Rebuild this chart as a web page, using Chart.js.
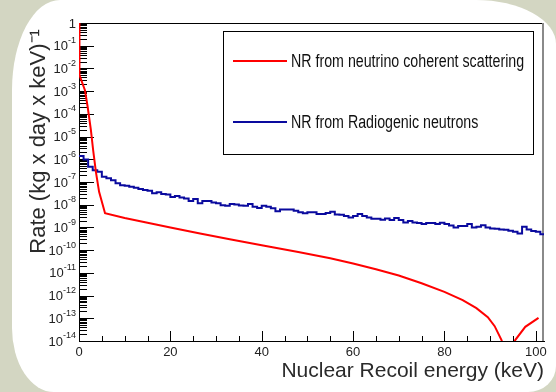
<!DOCTYPE html>
<html lang="en">
<head>
    <meta charset="UTF-8">
    <title>Nuclear recoil rates</title>
    <script src="https://cdn.jsdelivr.net/npm/chart.js"></script>
    <style>
        body {
            margin: 0;
            width: 556px;
            height: 392px;
            overflow: hidden;
            background: #d3d6c2;
            position: relative;
        }
        .sheet {
            position: absolute;
            left: 12px;
            top: 0;
            width: 544px;
            height: 392px;
            background: #fff;
            border-radius: 48px 80px 28px 42px / 90px 44px 26px 64px;
        }
        canvas {
            position: absolute;
            left: 0;
            top: 0;
        }
    </style>
</head>
<body>
    <div class="sheet"></div>
    <canvas id="rateChart" width="556" height="392"></canvas>

    <script>
        // neutrino coherent scattering (smooth curve)
        const redEnergy = [0, 0, 0.2, 1.3, 1.9, 2.6, 3.1, 3.7, 4.4, 5.7, 10, 15, 20, 26.5, 33, 40, 48, 55, 60, 65, 70, 75, 80, 84, 87, 89.5, 91, 92.5, 94, 95.5, 97.7, 100.6];
        const redRate = [1, 6e-3, 5.1e-3, 1.1e-3, 2.0e-4, 1.95e-5, 2.5e-6, 2.8e-7, 3.7e-8, 4.2e-9, 2.6e-9, 1.62e-9, 1.0e-9, 5.4e-10, 3.0e-10, 1.66e-10, 8.3e-11, 4.4e-11, 2.6e-11, 1.45e-11, 7.6e-12, 3.5e-12, 1.45e-12, 6.3e-13, 2.8e-13, 1.12e-13, 4.5e-14, 1.1e-14, 1e-15, 1.1e-14, 4.2e-14, 1.05e-13];

        // radiogenic neutrons (histogram, 1 keV bins, low edges)
        const blueBinEdges = [
            0, 1, 2, 3, 4, 5, 6, 7, 8, 9, 10, 11, 12, 13, 14, 15, 16, 17, 18, 19,
            20, 21, 22, 23, 24, 25, 26, 27, 28, 29, 30, 31, 32, 33, 34, 35, 36, 37, 38, 39,
            40, 41, 42, 43, 44, 45, 46, 47, 48, 49, 50, 51, 52, 53, 54, 55, 56, 57, 58, 59,
            60, 61, 62, 63, 64, 65, 66, 67, 68, 69, 70, 71, 72, 73, 74, 75, 76, 77, 78, 79,
            80, 81, 82, 83, 84, 85, 86, 87, 88, 89, 90, 91, 92, 93, 94, 95, 96, 97, 98, 99,
            100, 101, 102
        ];
        const blueRate = [
            1.4e-6, 9.8e-7, 4.7e-7, 3.3e-7, 2.8e-7, 1.7e-7, 1.45e-7, 1.2e-7, 8.7e-8, 7.2e-8,
            6.8e-8, 6.2e-8, 5.6e-8, 4.9e-8, 4.4e-8, 4.1e-8, 3.2e-8, 3.5e-8, 3.0e-8, 2.8e-8,
            2.2e-8, 2.4e-8, 2.1e-8, 1.9e-8, 1.45e-8, 1.8e-8, 1.15e-8, 1.45e-8, 1.45e-8, 1.26e-8,
            1.15e-8, 9.5e-9, 8.9e-9, 1.07e-8, 1.02e-8, 9.3e-9, 8.9e-9, 1.07e-8, 8.1e-9, 7.2e-9,
            8.9e-9, 8.1e-9, 6.9e-9, 5.2e-9, 6.2e-9, 6.2e-9, 6.2e-9, 5.4e-9, 4.6e-9, 4.2e-9,
            4.7e-9, 4.7e-9, 3.9e-9, 3.9e-9, 4.3e-9, 4.9e-9, 3.7e-9, 3.6e-9, 3.2e-9, 2.75e-9,
            3.2e-9, 3.9e-9, 3.2e-9, 2.75e-9, 2.4e-9, 2.4e-9, 2.2e-9, 2.45e-9, 2.1e-9, 2.6e-9,
            2.1e-9, 1.66e-9, 1.9e-9, 1.66e-9, 1.55e-9, 1.41e-9, 1.58e-9, 1.58e-9, 1.41e-9, 1.62e-9,
            1.41e-9, 1.23e-9, 1.0e-9, 1.17e-9, 1.17e-9, 1.41e-9, 1.0e-9, 1.07e-9, 1.26e-9, 1.0e-9,
            8.9e-10, 8.7e-10, 8.1e-10, 7.9e-10, 7.1e-10, 6.5e-10, 5.4e-10, 1.07e-9, 8.1e-10, 6.9e-10,
            6.5e-10, 5.0e-10
        ];

        const xTickValues = [0, 20, 40, 60, 80, 100];
        const yTickValues = [1, 1e-1, 1e-2, 1e-3, 1e-4, 1e-5, 1e-6, 1e-7, 1e-8, 1e-9, 1e-10, 1e-11, 1e-12, 1e-13, 1e-14];
        const yTickBases = ['1', '10', '10', '10', '10', '10', '10', '10', '10', '10', '10', '10', '10', '10', '10'];
        const yTickPowers = ['', '-1', '-2', '-3', '-4', '-5', '-6', '-7', '-8', '-9', '-10', '-11', '-12', '-13', '-14'];

        const redLabel = 'NR from neutrino coherent scattering';
        const blueLabel = 'NR from Radiogenic neutrons';

        const redPoints = redEnergy.map((e, i) => ({ x: e, y: redRate[i] }));
        // stepped line: each value runs from its low edge to the next edge
        const bluePoints = blueBinEdges.map((e, i) => ({ x: e, y: blueRate[Math.min(i, blueRate.length - 1)] }));

        const fontFamily = '"Liberation Sans", Arial, sans-serif';

        // ROOT style inward ticks, frame, power labels and boxed legend
        const rootFrame = {
            id: 'rootFrame',
            beforeDatasetsDraw(chart) {
                const { ctx, chartArea: a, scales: { x, y } } = chart;
                ctx.save();
                ctx.strokeStyle = '#000';
                ctx.lineWidth = 1;
                ctx.beginPath();
                for (let n = 0; n >= -14; n--) {
                    let p = Math.round(y.getPixelForValue(Math.pow(10, n))) + 0.5;
                    ctx.moveTo(a.left, p);
                    ctx.lineTo(a.left + 15, p);
                    if (n === -14) continue;
                    for (let k = 2; k < 10; k++) {
                        let q = Math.round(y.getPixelForValue(k * Math.pow(10, n - 1))) + 0.5;
                        ctx.moveTo(a.left, q);
                        ctx.lineTo(a.left + 8, q);
                    }
                }
                for (let v = 0; v <= 100; v += 5) {
                    let p = Math.round(x.getPixelForValue(v)) + 0.5;
                    ctx.moveTo(p, a.bottom);
                    ctx.lineTo(p, a.bottom - (v % 20 === 0 ? 10 : 5));
                }
                ctx.moveTo(a.left, a.top + 0.5);
                ctx.lineTo(a.right, a.top + 0.5);
                ctx.stroke();
                ctx.strokeStyle = '#8a8a8a';
                ctx.lineWidth = 2;
                ctx.beginPath();
                ctx.moveTo(a.right - 1, a.top);
                ctx.lineTo(a.right - 1, a.bottom);
                ctx.stroke();

                // y labels: base plus raised power
                ctx.fillStyle = '#222';
                ctx.textAlign = 'right';
                ctx.textBaseline = 'middle';
                const right = a.left - 3;
                yTickValues.forEach((v, i) => {
                    const p = y.getPixelForValue(v);
                    ctx.font = '9px ' + fontFamily;
                    const pw = ctx.measureText(yTickPowers[i]).width;
                    ctx.fillText(yTickPowers[i], right, p - 5);
                    ctx.font = '13px ' + fontFamily;
                    ctx.fillText(yTickBases[i], right - pw, p + 1);
                });
                ctx.restore();
            },
            afterDatasetsDraw(chart) {
                const { ctx } = chart;
                ctx.save();
                ctx.fillStyle = '#fff';
                ctx.fillRect(223, 31, 310, 123);
                ctx.strokeStyle = '#000';
                ctx.lineWidth = 1;
                ctx.strokeRect(223.5, 31.5, 310, 123);
                const rows = [61, 122];
                chart.data.datasets.forEach((ds, i) => {
                    ctx.strokeStyle = ds.borderColor;
                    ctx.lineWidth = 2;
                    ctx.beginPath();
                    ctx.moveTo(233, rows[i]);
                    ctx.lineTo(287, rows[i]);
                    ctx.stroke();
                    ctx.save();
                    ctx.translate(291, rows[i] + 1);
                    ctx.scale(0.79, 1);
                    ctx.fillStyle = '#111';
                    ctx.font = '18px ' + fontFamily;
                    ctx.textBaseline = 'middle';
                    ctx.fillText(ds.label, 0, 0);
                    ctx.restore();
                });
                ctx.restore();
            }
        };

        new Chart(document.getElementById('rateChart'), {
            type: 'line',
            data: {
                datasets: [
                    {
                        label: redLabel,
                        data: redPoints,
                        borderColor: '#ff0000',
                        borderWidth: 2,
                        pointRadius: 0,
                        tension: 0,
                        clip: 0
                    },
                    {
                        label: blueLabel,
                        data: bluePoints,
                        borderColor: '#0a0a9e',
                        borderWidth: 2,
                        pointRadius: 0,
                        stepped: 'before',
                        clip: 0
                    }
                ]
            },
            options: {
                responsive: false,
                animation: false,
                devicePixelRatio: 1,
                layout: { padding: { top: 23, right: 12, left: 0, bottom: 0 } },
                plugins: {
                    legend: { display: false },
                    tooltip: { enabled: false }
                },
                scales: {
                    x: {
                        type: 'linear',
                        min: 0,
                        max: 101.8,
                        afterFit: s => { s.height = 51; },
                        afterBuildTicks: s => { s.ticks = xTickValues.map(v => ({ value: v })); },
                        grid: { display: false, drawTicks: false },
                        border: { display: true, color: '#000', width: 1 },
                        ticks: {
                            padding: 4,
                            color: '#222',
                            font: { family: fontFamily, size: 13 },
                            maxRotation: 0
                        },
                        title: {
                            display: true,
                            text: 'Nuclear Recoil energy (keV)',
                            align: 'end',
                            color: '#2a2a2a',
                            font: { family: fontFamily, size: 21 },
                            padding: { top: 0, bottom: 8 }
                        }
                    },
                    y: {
                        type: 'logarithmic',
                        min: 1e-14,
                        max: 1,
                        afterFit: s => { s.width = 79; },
                        afterBuildTicks: s => { s.ticks = yTickValues.map(v => ({ value: v })); },
                        grid: { display: false, drawTicks: false },
                        border: { display: true, color: '#000', width: 1 },
                        ticks: { display: false },
                        title: {
                            display: true,
                            text: 'Rate (kg x day x keV)⁻¹ ',
                            align: 'end',
                            color: '#2a2a2a',
                            font: { family: fontFamily, size: 22 },
                            padding: { top: 26, bottom: 0 }
                        }
                    }
                }
            },
            plugins: [rootFrame]
        });
    </script>
</body>
</html>
